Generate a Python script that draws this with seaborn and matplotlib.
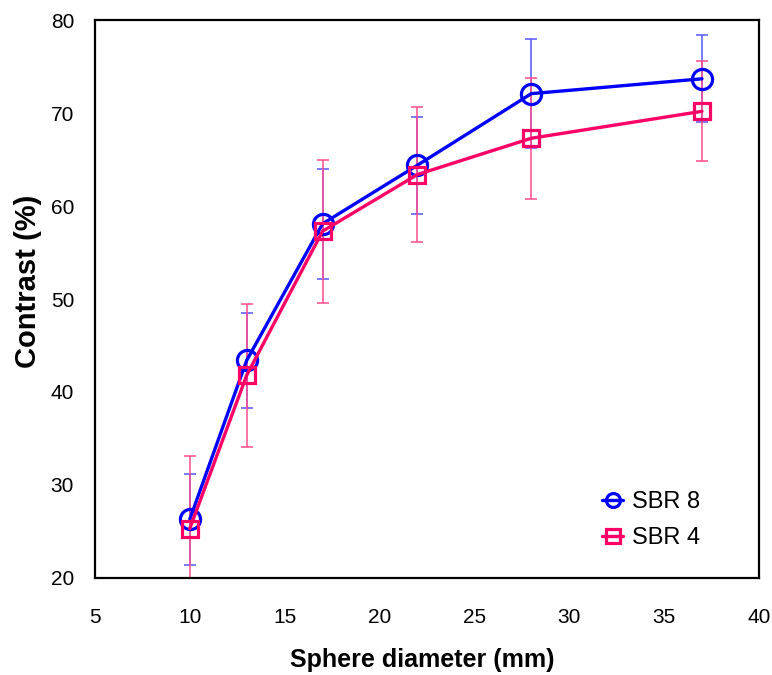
import matplotlib
matplotlib.use("Agg")
import matplotlib.pyplot as plt
import seaborn as sns
import pandas as pd

# Sphere diameters (mm) and contrast recovery (%) with standard deviations
diameters = [10, 13, 17, 22, 28, 37]
sbr8_mean = [26.3, 43.4, 58.1, 64.4, 72.1, 73.7]
sbr8_sd = [4.9, 5.1, 5.9, 5.2, 5.9, 4.7]
sbr4_mean = [25.3, 41.8, 57.3, 63.4, 67.3, 70.2]
sbr4_sd = [7.8, 7.7, 7.7, 7.3, 6.5, 5.4]

series_names = ["SBR 8", "SBR 4"]
x_ticks = [5, 10, 15, 20, 25, 30, 35, 40]
y_ticks = [20, 30, 40, 50, 60, 70, 80]

sns.set_theme(style="white")
plt.rcParams["font.family"] = ["Liberation Sans", "DejaVu Sans"]
plt.rcParams["text.color"] = "black"

df = pd.DataFrame({
    "diameter": diameters * 2,
    "contrast": sbr8_mean + sbr4_mean,
    "sd": sbr8_sd + sbr4_sd,
    "series": [series_names[0]] * len(diameters) + [series_names[1]] * len(diameters),
})

colors = {"SBR 8": "#0000FF", "SBR 4": "#FF0066"}
err_colors = {"SBR 8": "#5555FF", "SBR 4": "#FF4D8C"}
markers = {"SBR 8": "o", "SBR 4": "s"}
msizes = {"SBR 8": 14.5, "SBR 4": 11.5}

fig = plt.figure(figsize=(7.72, 6.75), dpi=100)
ax = fig.add_axes([0.123, 0.144, 0.860, 0.826])

for name in series_names:
    sub = df[df["series"] == name]
    ax.errorbar(sub["diameter"], sub["contrast"], yerr=sub["sd"], fmt="none",
                ecolor=err_colors[name], elinewidth=1.1, capsize=4, capthick=1.1,
                zorder=2)

for name in series_names:
    sub = df[df["series"] == name]
    sns.lineplot(data=sub, x="diameter", y="contrast", ax=ax, color=colors[name],
                 marker=markers[name], markersize=msizes[name],
                 markerfacecolor="none", markeredgecolor=colors[name],
                 markeredgewidth=2.3, linewidth=2.4, label=name, zorder=3,
                 errorbar=None)

ax.set_xlim(5, 40)
ax.set_ylim(20, 80)
ax.set_xticks(x_ticks)
ax.set_yticks(y_ticks)
ax.tick_params(axis="x", length=0, labelsize=15, pad=22, colors="black")
ax.tick_params(axis="y", length=0, labelsize=15, pad=15, colors="black")

ax.set_xlabel("Sphere diameter (mm)", fontsize=18, fontweight="bold",
              color="black", va="center", ha="center")
ax.set_ylabel("Contrast (%)", fontsize=21, fontweight="bold",
              color="black", va="center", ha="center")
ax.xaxis.set_label_coords(0.4925, -0.147)
ax.yaxis.set_label_coords(-0.101, 0.532)

for spine in ax.spines.values():
    spine.set_visible(True)
    spine.set_color("black")
    spine.set_linewidth(1.6)
ax.grid(False)

leg = ax.legend(loc="center left", bbox_to_anchor=(602 / 772, 1 - 520 / 675),
                bbox_transform=fig.transFigure, frameon=False,
                fontsize=17, handlelength=0.9, handletextpad=0.35,
                labelspacing=0.6, borderpad=0, borderaxespad=0,
                labelcolor="black")
for h in leg.legend_handles:
    h.set_markersize(10)
    h.set_linewidth(2.4)

fig.savefig("out.png", dpi=100, facecolor="white")
